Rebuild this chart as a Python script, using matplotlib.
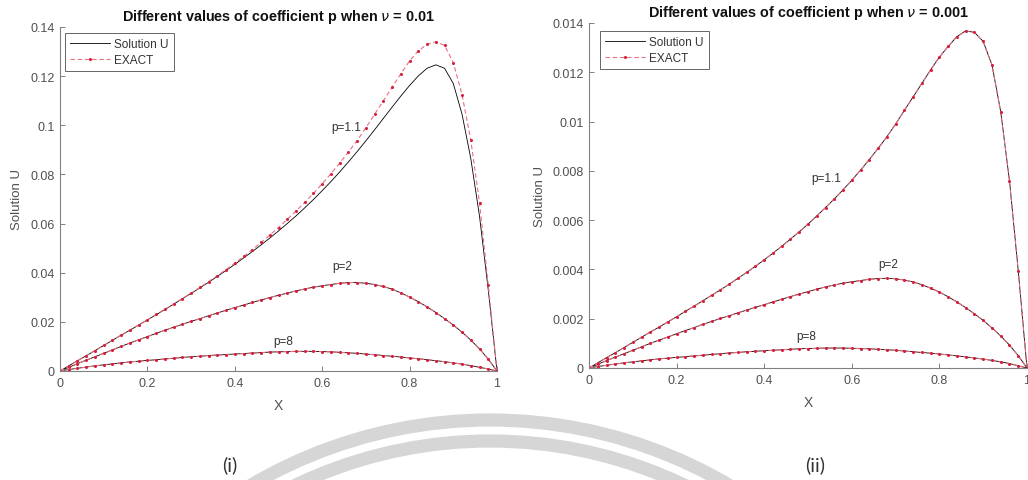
import numpy as np
import matplotlib
matplotlib.use("Agg")
from matplotlib import pyplot as plt
from matplotlib.patches import Circle
from matplotlib.ticker import FuncFormatter

plt.rcParams['font.family'] = ['Liberation Sans', 'DejaVu Sans']

# x grid (step 0.02)
x_grid = np.round(np.arange(0, 1.0001, 0.02), 2)

# panel (i): nu = 0.01
left_exact_p11 = [
    0.0000, 0.0021, 0.0042, 0.0062, 0.0083, 0.0104, 0.0125, 0.0146, 0.0166, 0.0187,
    0.0208, 0.0230, 0.0251, 0.0273, 0.0295, 0.0317, 0.0340, 0.0364, 0.0388, 0.0413,
    0.0439, 0.0466, 0.0494, 0.0523, 0.0553, 0.0584, 0.0617, 0.0651, 0.0686, 0.0723,
    0.0762, 0.0803, 0.0846, 0.0891, 0.0938, 0.0990, 0.1045, 0.1100, 0.1155, 0.1210,
    0.1262, 0.1303, 0.1330, 0.1340, 0.1325, 0.1255, 0.1125, 0.0940, 0.0685, 0.0350,
    0.0000]
left_sol_p11 = [
    0.0000, 0.0021, 0.0042, 0.0062, 0.0083, 0.0104, 0.0125, 0.0146, 0.0166, 0.0187,
    0.0208, 0.0229, 0.0250, 0.0272, 0.0294, 0.0316, 0.0338, 0.0361, 0.0385, 0.0409,
    0.0434, 0.0460, 0.0486, 0.0513, 0.0541, 0.0570, 0.0600, 0.0631, 0.0664, 0.0698,
    0.0734, 0.0771, 0.0810, 0.0851, 0.0893, 0.0937, 0.0982, 0.1028, 0.1074, 0.1119,
    0.1162, 0.1201, 0.1232, 0.1246, 0.1232, 0.1170, 0.1045, 0.0865, 0.0630, 0.0330,
    0.0000]
left_p2 = [
    0.0000, 0.0015, 0.0030, 0.0044, 0.0058, 0.0072, 0.0086, 0.0100, 0.0114, 0.0127,
    0.0140, 0.0153, 0.0166, 0.0178, 0.0190, 0.0202, 0.0213, 0.0225, 0.0236, 0.0247,
    0.0258, 0.0268, 0.0279, 0.0289, 0.0299, 0.0308, 0.0317, 0.0326, 0.0334, 0.0341,
    0.0347, 0.0352, 0.0357, 0.0360, 0.0360, 0.0357, 0.0352, 0.0344, 0.0333, 0.0318,
    0.0301, 0.0282, 0.0261, 0.0238, 0.0213, 0.0187, 0.0158, 0.0126, 0.0090, 0.0048,
    0.0000]
left_p8 = [
    0.0000, 0.0006, 0.0011, 0.0016, 0.0021, 0.0025, 0.0029, 0.0033, 0.0037, 0.0040,
    0.0043, 0.0046, 0.0049, 0.0052, 0.0055, 0.0058, 0.0060, 0.0063, 0.0065, 0.0067,
    0.0069, 0.0071, 0.0073, 0.0075, 0.0077, 0.0078, 0.0079, 0.0080, 0.0080, 0.0080,
    0.0079, 0.0078, 0.0076, 0.0074, 0.0072, 0.0069, 0.0066, 0.0063, 0.0060, 0.0057,
    0.0053, 0.0050, 0.0046, 0.0042, 0.0038, 0.0033, 0.0028, 0.0022, 0.0015, 0.0008,
    0.0000]

# panel (ii): nu = 0.001 (solution and exact overlap)
right_p11 = [
    0.00000, 0.00021, 0.00042, 0.00062, 0.00083, 0.00104, 0.00125, 0.00146, 0.00166, 0.00187,
    0.00208, 0.00230, 0.00251, 0.00273, 0.00295, 0.00317, 0.00340, 0.00364, 0.00388, 0.00413,
    0.00439, 0.00466, 0.00494, 0.00523, 0.00553, 0.00584, 0.00617, 0.00651, 0.00686, 0.00723,
    0.00762, 0.00803, 0.00846, 0.00891, 0.00938, 0.00990, 0.01045, 0.01100, 0.01155, 0.01210,
    0.01262, 0.01305, 0.01345, 0.01368, 0.01362, 0.01325, 0.01230, 0.01040, 0.00760, 0.00395,
    0.00000]
right_p2 = [
    0.00000, 0.00015, 0.00030, 0.00044, 0.00058, 0.00072, 0.00086, 0.00100, 0.00113, 0.00126,
    0.00139, 0.00152, 0.00164, 0.00177, 0.00189, 0.00201, 0.00212, 0.00224, 0.00235, 0.00246,
    0.00257, 0.00268, 0.00279, 0.00290, 0.00300, 0.00310, 0.00320, 0.00329, 0.00337, 0.00344,
    0.00350, 0.00355, 0.00360, 0.00363, 0.00364, 0.00362, 0.00357, 0.00349, 0.00338, 0.00324,
    0.00308, 0.00289, 0.00268, 0.00245, 0.00220, 0.00193, 0.00163, 0.00130, 0.00093, 0.00050,
    0.00000]
right_p8 = [
    0.00000, 0.00006, 0.00011, 0.00016, 0.00021, 0.00025, 0.00029, 0.00033, 0.00037, 0.00040,
    0.00043, 0.00046, 0.00049, 0.00052, 0.00055, 0.00058, 0.00061, 0.00063, 0.00066, 0.00068,
    0.00070, 0.00072, 0.00074, 0.00076, 0.00078, 0.00079, 0.00080, 0.00081, 0.00081, 0.00081,
    0.00080, 0.00079, 0.00078, 0.00076, 0.00074, 0.00072, 0.00069, 0.00066, 0.00063, 0.00060,
    0.00057, 0.00053, 0.00049, 0.00045, 0.00041, 0.00036, 0.00031, 0.00025, 0.00018, 0.00009,
    0.00000]

left_labels = [('p=1.1', 0.656, 0.0993), ('p=2', 0.646, 0.0427), ('p=8', 0.51, 0.0123)]
right_labels = [('p=1.1', 0.541, 0.0077), ('p=2', 0.683, 0.00422), ('p=8', 0.495, 0.00131)]

AX_GRAY = '#808080'
TXT = '#505050'


def fmt(v, pos):
    return f'{v:g}'


def draw_panel(ax, sols, exacts, labels, ymax, ystep, title, leg_anchor):
    for s in sols:
        ax.plot(x_grid, s, color='black', linewidth=0.6, label='Solution U')
    for e in exacts:
        ax.plot(x_grid, e, linestyle='--', color='#e87080', linewidth=0.8,
                dashes=(4, 2.5), marker='.', markersize=2.4,
                markerfacecolor='#d81e3a', markeredgecolor='#d81e3a', label='EXACT')
    ax.set_xlim(0, 1)
    ax.set_ylim(0, ymax)
    ax.set_xticks(np.arange(0, 1.01, 0.2))
    ax.set_yticks(np.arange(0, ymax + ystep / 2, ystep))
    ax.xaxis.set_major_formatter(FuncFormatter(fmt))
    ax.yaxis.set_major_formatter(FuncFormatter(fmt))
    ax.tick_params(direction='in', length=3.5, width=0.7, colors=AX_GRAY,
                   labelcolor=TXT, labelsize=9, pad=4)
    for side in ('top', 'right'):
        ax.spines[side].set_visible(False)
    for side in ('left', 'bottom'):
        ax.spines[side].set_color(AX_GRAY)
        ax.spines[side].set_linewidth(0.8)
    ax.set_xlabel('X', fontsize=10, color=TXT)
    ax.set_ylabel('Solution U', fontsize=9.5, color=TXT)
    ax.xaxis.set_label_coords(0.5, -0.078)
    ax.set_title(title, fontsize=10.4, fontweight='bold', color='#111111', pad=5)
    for txt, tx, ty in labels:
        ax.text(tx, ty, txt, fontsize=8.5, color='#333333', ha='center', va='center')
    h, l = ax.get_legend_handles_labels()
    leg = ax.legend([h[0], h[len(sols)]], ['Solution U', 'EXACT'], loc='upper left',
                    bbox_to_anchor=leg_anchor, borderaxespad=0, fontsize=8.5,
                    fancybox=False, framealpha=1, edgecolor='#666666',
                    handlelength=3.4, borderpad=0.45, labelspacing=0.3,
                    handletextpad=0.3)
    leg.get_frame().set_linewidth(0.7)
    for t in leg.get_texts():
        t.set_color('#333333')


fig = plt.figure(figsize=(10.28, 4.81), dpi=100)

ax1 = fig.add_axes([60 / 1028, 109 / 481, 437 / 1028, 344 / 481])
draw_panel(ax1, [left_sol_p11, left_p2, left_p8], [left_exact_p11, left_p2, left_p8],
           left_labels, 0.14, 0.02,
           r'Different values of coefficient p when $\nu$ = 0.01', (0.011, 0.983))
ax1.yaxis.set_label_coords(-0.085, 0.5)

ax2 = fig.add_axes([589 / 1028, 112 / 481, 438 / 1028, 345 / 481])
draw_panel(ax2, [right_p11, right_p2, right_p8], [right_p11, right_p2, right_p8],
           right_labels, 0.014, 0.002,
           r'Different values of coefficient p when $\nu$ = 0.001', (0.025, 0.977))
ax2.yaxis.set_label_coords(-0.098, 0.5)

# watermark arcs and sub-captions in pixel space
bg = fig.add_axes([0, 0, 1, 1], zorder=-1)
bg.set_xlim(0, 1028)
bg.set_ylim(481, 0)
bg.axis('off')
bg.add_patch(Circle((490, 892), 471, fill=False, linewidth=9.5, edgecolor='#d6d6d6'))
bg.add_patch(Circle((490, 892), 450, fill=False, linewidth=9.5, edgecolor='#d6d6d6'))
fig.text(230 / 1028, 1 - 465 / 481, '(i)', fontsize=14, color='#333333',
         ha='center', va='center', family=['Lato', 'DejaVu Sans'])
fig.text(815 / 1028, 1 - 465 / 481, '(ii)', fontsize=14, color='#333333',
         ha='center', va='center', family=['Lato', 'DejaVu Sans'])

fig.savefig('out.png', dpi=100)
plt.close(fig)
